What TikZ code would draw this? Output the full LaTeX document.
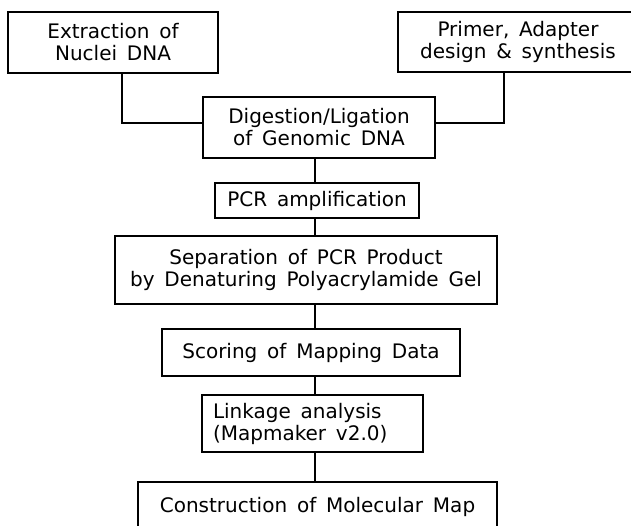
\documentclass[tikz,border=0pt]{standalone}
\usepackage{fontspec}
\setmainfont{DejaVu Sans}
\newcommand{\boxfont}{\fontsize{20}{22}\selectfont\spaceskip=9.8pt\relax}
\begin{document}
\begin{tikzpicture}[x=1pt,y=-1pt,
  every node/.style={font=\boxfont},
  stepbox/.style={draw,line width=1.8pt,rectangle,inner sep=0pt,align=center},
  link/.style={line width=1.8pt}]
\useasboundingbox (0,0) rectangle (631,526);
\clip (0,0) rectangle (631,526);
\fill[white] (0,0) rectangle (631,526);

% process boxes
\node[stepbox,minimum width=210pt,minimum height=61pt] (ext) at (113,42.5)
  {Extraction of\\Nuclei DNA};
\node[stepbox,minimum width=240pt,minimum height=60pt] (prim) at (518,42)
  {Primer, Adapter\\design \& synthesis};
\node[stepbox,minimum width=232pt,minimum height=61pt] (dig) at (319,127.5)
  {Digestion/Ligation\\of Genomic DNA};
\node[stepbox,minimum width=204pt,minimum height=35pt] (pcr) at (317,200.5)
  {PCR amplification};
\node[stepbox,minimum width=382pt,minimum height=68pt] (sep) at (306,270)
  {Separation of PCR Product\\by Denaturing Polyacrylamide Gel};
\node[stepbox,minimum width=298pt,minimum height=47pt] (scr) at (311,352.5)
  {Scoring of Mapping Data};
\node[stepbox,text width=199pt,inner xsep=11pt,align=left,minimum height=57pt] (lnk) at (312.5,423.5)
  {\spaceskip=9.8pt Linkage analysis\\(Mapmaker v2.0)};
\node[stepbox,minimum width=359pt,minimum height=50pt] (con) at (317.5,507)
  {Construction of Molecular Map};

% main spine
\coordinate (sp) at (315,0);

% connectors
\draw[link] ([xshift=9pt]ext.south) |- ([yshift=4.5pt]dig.west);
\draw[link] ([xshift=-14pt]prim.south) |- ([yshift=4.5pt]dig.east);
\draw[link] (dig.south -| sp) -- (pcr.north -| sp);
\draw[link] (pcr.south -| sp) -- (sep.north -| sp);
\draw[link] (sep.south -| sp) -- (scr.north -| sp);
\draw[link] (scr.south -| sp) -- (lnk.north -| sp);
\draw[link] (lnk.south -| sp) -- (con.north -| sp);
\end{tikzpicture}
\end{document}
